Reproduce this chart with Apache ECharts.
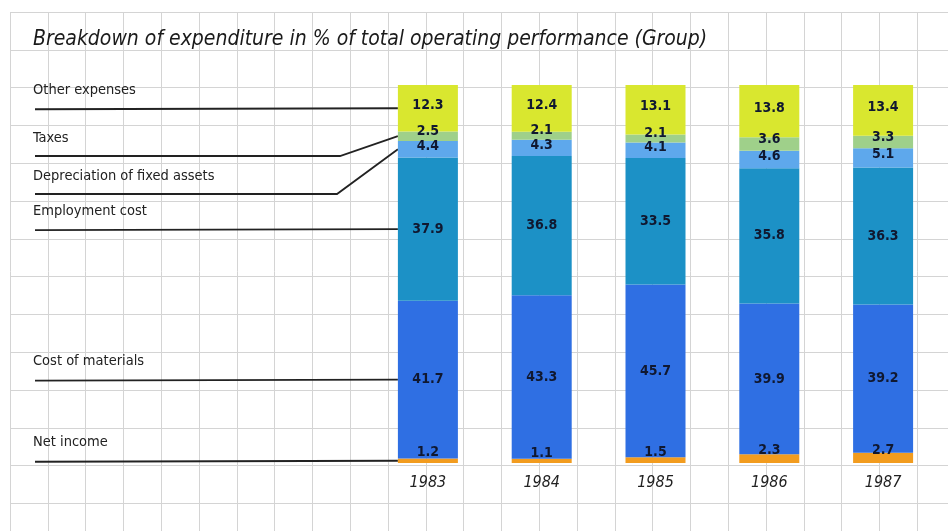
<!DOCTYPE html>
<html>
<head>
<meta charset="utf-8">
<script src="https://cdn.jsdelivr.net/npm/echarts@6/dist/echarts.min.js"></script>
<style>
  html, body { margin: 0; padding: 0; background: #fff; }
  #chart { width: 948px; height: 531px; }
</style>
</head>
<body>
<div id="chart"></div>
<script>
// values in % of total operating performance
const years = ['1983', '1984', '1985', '1986', '1987']
const netIncome = [1.2, 1.1, 1.5, 2.3, 2.7]
const costOfMaterials = [41.7, 43.3, 45.7, 39.9, 39.2]
const employmentCost = [37.9, 36.8, 33.5, 35.8, 36.3]
const depreciation = [4.4, 4.3, 4.1, 4.6, 5.1]
const taxes = [2.5, 2.1, 2.1, 3.6, 3.3]
const otherExpenses = [12.3, 12.4, 13.1, 13.8, 13.4]

const seriesNames = ['Net income', 'Cost of materials', 'Employment cost', 'Depreciation of fixed assets', 'Taxes', 'Other expenses']
const seriesData = [netIncome, costOfMaterials, employmentCost, depreciation, taxes, otherExpenses]
const colors = ['#f29c1f', '#2f6fe3', '#1c91c6', '#5ea8ec', '#9fd08a', '#d9e72f']
const labelOffsets = [[0, -8], [0, 0], [0, 0], [0, -3], [0, -5], [0, -3]]

const narrow = '"Liberation Sans Narrow", "DejaVu Sans Condensed", sans-serif'
const cell = 37.8 // graph paper step

const myChart = echarts.init(document.getElementById('chart'))

const option = {
    animation: false,
    backgroundColor: '#fff',
    grid: [
        { left: 371, right: 8, top: 85, bottom: 68 },
        { left: 10, top: 12, right: 0, bottom: 0 } // graph paper
    ],
    xAxis: [
        {
            type: 'category',
            data: years,
            gridIndex: 0,
            axisLine: { show: false },
            axisTick: { show: false },
            axisLabel: {
                margin: 12,
                fontFamily: narrow,
                fontStyle: 'italic',
                fontSize: 16,
                color: '#222'
            }
        },
        {
            type: 'value',
            gridIndex: 1,
            min: 0,
            max: (948 - 10) / cell,
            interval: 1,
            axisLine: { show: false },
            axisTick: { show: false },
            axisLabel: { show: false },
            splitLine: { show: true, showMaxLine: false, lineStyle: { color: '#d4d4d4', width: 1 } }
        }
    ],
    yAxis: [
        {
            type: 'value',
            gridIndex: 0,
            min: 0,
            max: 100,
            show: false
        },
        {
            type: 'value',
            gridIndex: 1,
            inverse: true,
            min: 0,
            max: (531 - 12) / cell,
            interval: 1,
            axisLine: { show: false },
            axisTick: { show: false },
            axisLabel: { show: false },
            splitLine: { show: true, showMaxLine: false, lineStyle: { color: '#d4d4d4', width: 1 } }
        }
    ],
    series: seriesNames.map((name, i) => ({
        name: name,
        type: 'bar',
        stack: 'total',
        xAxisIndex: 0,
        yAxisIndex: 0,
        barWidth: 60,
        z: 3,
        itemStyle: { color: colors[i] },
        label: {
            show: true,
            position: 'inside',
            offset: labelOffsets[i],
            formatter: p => p.value.toFixed(1),
            fontFamily: narrow,
            fontWeight: 'bold',
            fontSize: 14,
            color: '#101830'
        },
        data: seriesData[i]
    }))
}
myChart.setOption(option)

// left hand legend with leader lines to the 1983 bar
function drawLegend() {
    const barLeft = myChart.convertToPixel({ gridIndex: 0 }, [0, 0])[0] - 30
    const graphic = [{
        type: 'text',
        x: 33,
        y: 40,
        style: {
            text: 'Breakdown of expenditure in % of total operating performance (Group)',
            font: 'italic 21px ' + narrow,
            fill: '#1a1a1a',
            verticalAlign: 'middle'
        }
    }]
    // kinked leaders: [text y, line y, kink x]
    const kinked = { 'Taxes': [138, 156, 340], 'Depreciation of fixed assets': [176, 194, 337] }
    let base = 0
    seriesNames.forEach((name, i) => {
        const v = seriesData[i][0]
        const target = myChart.convertToPixel({ gridIndex: 0 }, [0, base + v / 2])[1]
        base += v
        let points, textY
        if (kinked[name]) {
            const k = kinked[name]
            textY = k[0]
            points = [[35, k[1]], [k[2], k[1]], [barLeft, target]]
        } else {
            textY = target - 18
            points = [[35, target + 1], [barLeft, target]]
        }
        graphic.push({
            type: 'text',
            x: 33,
            y: textY,
            style: { text: name, font: '14.5px ' + narrow, fill: '#222', verticalAlign: 'middle' }
        })
        graphic.push({
            type: 'polyline',
            shape: { points: points },
            style: { stroke: '#222', lineWidth: 1.8, fill: null }
        })
    })
    myChart.setOption({ graphic: graphic })
}
drawLegend()
</script>
</body>
</html>
